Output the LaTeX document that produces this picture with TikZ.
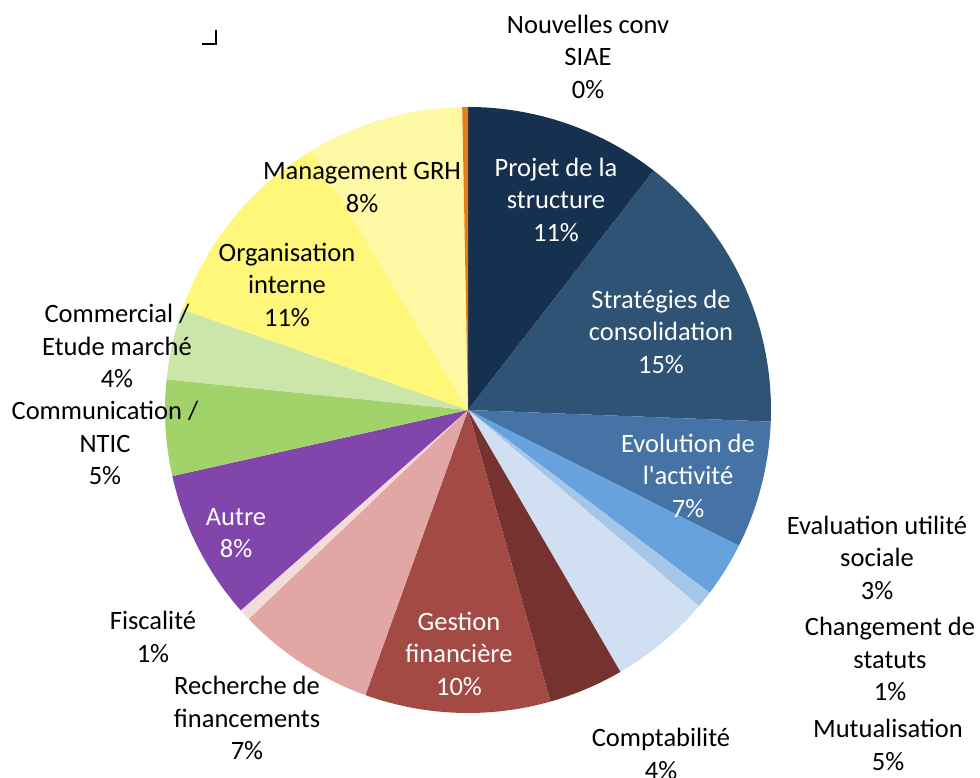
\documentclass[tikz,border=0pt]{standalone}
\usepackage{fontspec}
\setmainfont{Carlito}
\definecolor{cProjet}{HTML}{16304F}
\definecolor{cStrat}{HTML}{2F5374}
\definecolor{cEvol}{HTML}{4673A6}
\definecolor{cEvalu}{HTML}{66A3DE}
\definecolor{cChang}{HTML}{A6C6E8}
\definecolor{cMutu}{HTML}{D0E0F2}
\definecolor{cCompta}{HTML}{76322F}
\definecolor{cGest}{HTML}{A34A44}
\definecolor{cRech}{HTML}{E2A7A5}
\definecolor{cFisc}{HTML}{F2DCDB}
\definecolor{cAutre}{HTML}{8145AB}
\definecolor{cComm}{HTML}{A2D36A}
\definecolor{cCommerc}{HTML}{CCE5A8}
\definecolor{cOrga}{HTML}{FFF77A}
\definecolor{cManag}{HTML}{FFF9A5}
\definecolor{cNouv}{HTML}{E47F17}
\tikzset{
  lbl/.style={align=center, inner sep=0pt, font=\fontsize{26.5}{32.5}\selectfont, text=black},
  wlbl/.style={lbl, text=white}
}
\begin{document}
\begin{tikzpicture}[x=1pt,y=1pt]
\useasboundingbox (0,0) rectangle (980,778);
\coordinate (c) at (468,368);
\def\R{303}
\foreach \a/\b/\col in {0/37.8/cProjet, 37.8/92.2/cStrat, 92.2/116.6/cEvol, 116.6/127.1/cEvalu,
  127.1/130.3/cChang, 130.3/149.8/cMutu, 149.8/164.2/cCompta, 164.2/199.8/cGest,
  199.8/226.4/cRech, 226.4/228.6/cFisc, 228.6/257.4/cAutre, 257.4/275.8/cComm,
  275.8/289.4/cCommerc, 289.4/328.9/cOrga, 328.9/358.9/cManag, 358.9/360/cNouv}{
  \fill[\col] (c) -- ++({90-\a}:\R) arc[start angle={90-\a}, end angle={90-\b}, radius=\R] -- cycle;
}
% corner mark
\draw[line width=2pt] (202,734) -- (216,734) -- (216,748);
% labels
\node[lbl]  (nouv)    at (588,721.5) {Nouvelles conv\\SIAE\\0\%};
\node[wlbl] (projet)  at (556,578.5) {Projet de la\\structure\\11\%};
\node[wlbl] (strat)   at (661,446.5) {Stratégies de\\consolidation\\15\%};
\node[wlbl] (evol)    at (688,302.5) {Evolution de\\l\textquotesingle activité\\7\%};
\node[lbl]  (evalu)   at (877,220.5) {Evaluation utilité\\sociale\\3\%};
\node[lbl]  (chang)   at (890,119)   {Changement de\\statuts\\1\%};
\node[lbl]  (mutu)    at (888,33)    {Mutualisation\\5\%};
\node[lbl]  (compta)  at (661,24)    {Comptabilité\\4\%};
\node[wlbl] (gest)    at (459,124.5) {Gestion\\financière\\10\%};
\node[lbl]  (rech)    at (247,60)    {Recherche de\\financements\\7\%};
\node[lbl]  (fisc)    at (153,141)   {Fiscalité\\1\%};
\node[wlbl] (autre)   at (236,245)   {Autre\\8\%};
\node[lbl]  (comm)    at (105,335)   {Communication /\\NTIC\\5\%};
\node[lbl]  (commerc) at (117,432)   {Commercial /\\Etude marché\\4\%};
\node[lbl]  (orga)    at (287,493.5) {Organisation\\interne\\11\%};
\node[lbl]  (manag)   at (362,590.5) {Management GRH\\8\%};
\end{tikzpicture}
\end{document}
